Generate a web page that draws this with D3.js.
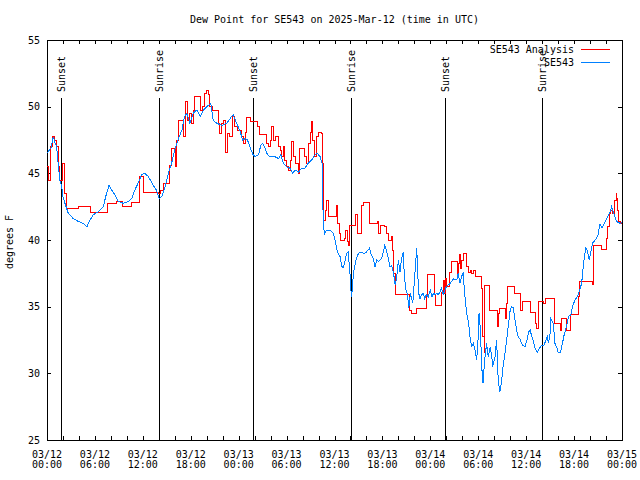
<!DOCTYPE html>
<html><head><meta charset="utf-8">
<script src="https://cdn.jsdelivr.net/npm/d3@7"></script>
<style>
html,body{margin:0;padding:0;background:#fff;}
svg{display:block;font-family:"DejaVu Sans Mono",monospace;font-size:10px;}
</style></head>
<body>
<script>
// ---- data (hours after 2025-03-12 00:00 UTC) ----
const title = "Dew Point for SE543 on 2025-Mar-12 (time in UTC)";
const yTicks = [25,30,35,40,45,50,55];
const sunHours = [1.8, 14.05, 25.8, 38.07, 49.9, 62.0];
const sunLabels = ["Sunset","Sunrise","Sunset","Sunrise","Sunset","Sunrise"];
const seriesNames = ["SE543 Analysis","SE543"];

const obsHours = [0,0.5,0.8,1.0,1.2,1.6,1.84,2.0,2.25,2.67,3.3,3.9,4.5,5.0,5.4,5.8,6.4,7.05,7.35,7.76,8.1,8.5,8.9,9.55,10.2,10.6,11.0,11.4,11.86,12.27,12.7,13.3,13.7,14.06,14.36,14.8,15.2,15.6,16.0,16.4,16.9,17.2,17.5,17.9,18.3,18.75,19.2,19.6,20.0,20.5,20.8,21.25,21.9,22.5,23.1,23.3,23.75,24.2,24.5,24.8,25.1,25.4,25.8,26.05,26.5,26.76,27.0,27.3,27.6,27.9,28.55,29.0,29.27,29.6,30.0,30.4,30.77,31.06,31.5,31.9,32.3,32.7,33.15,33.56,33.85,34.2,34.44,34.5,34.6,34.73,35.0,35.4,35.86,36.06,36.3,36.5,36.7,36.9,37.1,37.3,37.5,37.7,37.8,37.94,38.0,38.15,38.3,38.44,38.7,39.0,39.4,39.7,40.0,40.4,40.6,40.85,41.07,41.3,41.5,41.7,41.9,42.1,42.3,42.5,42.75,42.95,43.15,43.4,43.6,43.8,44.0,44.2,44.4,44.6,44.75,44.95,45.15,45.3,45.5,45.8,45.95,46.1,46.3,46.4,46.55,46.7,46.9,47.1,47.3,47.5,47.75,48.0,48.2,48.4,48.6,48.8,49.0,49.2,49.4,49.6,49.85,50.0,50.5,50.9,51.3,51.5,51.7,51.9,52.1,52.3,52.55,52.8,53.0,53.2,53.4,53.6,53.8,54.0,54.1,54.3,54.4,54.6,54.8,55.05,55.25,55.5,55.7,55.8,56.1,56.3,56.5,56.7,56.9,57.1,57.35,57.6,57.8,58.0,58.2,58.4,58.6,58.8,59.0,59.2,59.4,59.6,59.85,60.1,60.3,60.5,60.7,60.9,61.1,61.4,61.7,61.9,62.2,62.5,62.65,62.8,63.0,63.1,63.4,63.6,63.8,64.0,64.3,64.55,64.7,65.0,65.3,65.6,65.8,66.1,66.4,66.7,66.95,67.1,67.25,67.45,67.65,67.9,68.1,68.3,68.5,68.75,69.0,69.25,69.5,69.8,70.2,70.5,70.7,70.9,71.1,71.3,71.75,72.0];
const obsValues = [46.5,46.9,47.75,47.3,47.0,44.5,44.0,43.25,42.75,42.0,41.6,41.4,41.25,41.0,41.5,41.9,42.1,42.5,43.25,44.1,43.75,43.4,42.9,42.75,42.9,43.1,43.75,44.25,44.9,45.0,44.75,44.1,43.75,43.1,43.25,44.0,45.0,45.75,46.75,47.5,48.25,49.25,49.5,48.75,49.5,49.75,49.25,49.75,50.0,50.25,49.0,48.75,48.6,48.75,49.25,49.4,48.75,48.1,47.5,47.6,47.5,47.0,46.4,46.25,46.4,47.1,47.25,46.9,46.4,46.25,46.25,46.1,46.4,45.75,45.5,45.4,45.0,45.25,45.1,45.4,45.4,45.75,46.0,46.4,46.5,46.25,45.75,43.5,41.5,40.4,40.75,40.75,40.5,40.0,39.25,38.9,38.75,38.0,37.95,38.4,39.0,39.1,38.5,37.5,36.5,35.75,37.0,37.75,38.5,39.0,39.1,38.95,39.1,39.4,38.9,38.6,38.0,38.5,38.4,38.5,38.6,39.1,39.6,39.25,38.6,38.0,38.1,37.5,36.6,37.25,38.5,37.6,38.6,39.1,37.25,36.25,35.9,34.9,36.0,35.25,36.5,37.75,39.4,37.75,36.0,35.6,35.9,36.0,35.6,35.9,35.75,36.25,35.75,36.0,35.9,36.0,35.9,36.1,36.4,35.9,36.25,36.5,36.75,37.1,37.0,37.5,36.75,37.25,37.5,36.0,34.5,33.75,32.5,32.0,32.25,31.75,31.0,32.75,34.5,33.0,30.75,29.25,31.0,32.25,31.25,32.0,31.25,30.5,31.25,32.5,29.5,28.6,29.25,30.5,31.5,32.75,33.75,34.75,35.0,34.9,34.0,33.25,32.75,32.6,32.25,32.1,32.0,32.5,33.1,33.25,32.75,32.4,31.9,31.6,31.9,32.1,32.1,32.5,32.75,32.25,33.0,34.1,33.75,32.25,32.0,31.6,31.6,32.25,32.75,33.4,34.25,34.4,35.0,35.5,35.75,36.25,36.75,37.75,38.5,39.4,39.25,38.5,39.1,39.75,39.9,40.1,40.4,41.2,40.9,41.25,41.75,42.1,42.5,42.1,41.75,41.4,41.25,41.3];

const anaHours = [0,0.17,0.46,0.71,1.0,1.13,1.42,1.54,1.96,2.17,2.38,3.92,5.47,7.55,8.72,9.47,10.6,11.52,12.06,13.94,14.15,14.57,15.4,15.6,16.03,16.24,16.44,17.07,17.36,17.61,17.9,18.1,18.3,18.5,19.24,19.5,19.74,20.0,20.2,20.4,20.74,21.45,21.66,21.87,22.08,22.29,22.41,22.58,22.9,23.25,23.54,23.83,24.38,24.59,24.8,25.0,25.5,26.4,26.6,27.5,27.72,27.93,28.14,28.35,28.56,28.97,29.18,29.39,29.6,29.8,30.0,30.22,30.43,30.64,30.85,31.06,31.48,31.6,32.3,32.52,32.73,32.94,33.06,33.27,33.44,33.69,33.98,34.4,34.52,34.6,34.68,34.85,35.02,35.23,36.19,36.36,36.6,36.77,37.2,37.4,37.6,37.73,37.86,38.69,38.86,39.4,39.69,40.36,41.36,41.53,41.7,42.32,42.53,42.74,43.16,43.28,43.45,43.66,45.45,45.66,46.3,47.46,47.62,48.58,48.67,49.42,49.63,49.75,49.88,50.04,50.46,50.67,51.38,51.5,51.63,51.8,51.92,52.13,52.55,52.76,52.97,53.17,53.38,53.6,54.43,54.55,54.72,54.84,55.4,55.47,56.43,56.55,56.64,57.39,57.56,57.68,58.48,58.6,59.35,59.5,60.48,61.23,61.31,61.52,62.23,62.48,63.53,64.32,64.44,65.07,65.49,66.53,66.65,68.32,68.49,69.45,70.0,70.16,70.4,70.58,70.83,71.0,71.12,71.25,71.33,71.42,71.55,71.75,72.0];
const anaValues = [45.5,44.5,47.0,47.75,47.5,47.0,45.5,44.5,45.75,43.5,42.4,42.5,42.1,42.75,42.9,42.5,42.8,44.75,43.6,43.5,43.75,44.25,45.6,46.9,45.5,47.5,49.0,47.75,50.4,49.0,49.5,48.75,49.75,50.75,49.75,50.0,51.0,51.25,50.9,50.0,49.75,48.75,48.0,48.75,49.0,48.25,46.6,48.0,47.75,49.25,48.5,48.25,47.75,47.25,48.1,49.2,48.9,48.5,47.9,47.25,47.0,47.5,48.5,47.5,47.75,47.0,46.75,46.25,47.0,46.0,45.5,45.25,46.0,47.4,46.25,45.75,45.0,46.9,46.25,45.75,47.25,48.1,48.9,47.5,46.25,47.75,48.1,48.0,45.75,44.0,41.5,42.25,43.0,41.75,42.6,41.25,40.5,40.0,40.1,40.75,39.9,39.6,41.1,41.9,40.5,42.6,42.8,41.25,41.4,40.5,41.1,41.0,40.5,40.0,40.25,39.25,37.5,35.9,34.75,34.5,34.9,35.9,37.4,35.9,35.1,36.1,37.0,36.0,37.1,36.5,37.6,38.4,37.5,38.25,38.9,37.9,38.5,39.0,38.0,37.6,37.75,37.5,37.75,37.25,36.4,32.75,31.6,36.6,35.6,34.75,33.5,34.5,34.9,34.1,35.25,36.5,36.1,36.0,34.75,35.4,34.6,33.75,33.4,35.4,35.25,35.6,33.75,33.25,34.1,33.25,34.4,35.75,36.9,36.7,39.6,39.3,40.1,41.0,42.0,42.25,42.0,42.25,43.0,43.5,43.1,42.25,41.4,41.25,41.25];

// ---- drawing ----
const W = 640, H = 480;
const base = Date.UTC(2025, 2, 12);
const toDate = h => new Date(base + h * 3600e3);
const pL = 47, pR = 622, pT = 40, pB = 440;

const svg = d3.select("body").append("svg").attr("width", W).attr("height", H);

const x = d3.scaleUtc().domain([toDate(0), toDate(72)]).range([pL, pR]);
const y = d3.scaleLinear().domain([25, 55]).range([pB, pT]);

const black = "#000";

// frame
svg.append("rect").attr("x", pL).attr("y", pT)
  .attr("width", pR - pL).attr("height", pB - pT)
  .attr("fill", "none").attr("stroke", black).attr("shape-rendering", "crispEdges");

// x ticks (every 2h) bottom and top
const tick2 = d3.utcHour.every(2).range(toDate(0), toDate(72.01));
const xb = svg.append("g").attr("transform", `translate(0,${pB})`)
  .call(d3.axisBottom(x).tickValues(tick2).tickSizeInner(-4).tickSizeOuter(0).tickFormat(""));
const xt = svg.append("g").attr("transform", `translate(0,${pT})`)
  .call(d3.axisTop(x).tickValues(tick2).tickSizeInner(-4).tickSizeOuter(0).tickFormat(""));
[xb, xt].forEach(g => { g.select(".domain").remove(); g.selectAll("line").attr("stroke", black).attr("shape-rendering","crispEdges"); });

// x labels every 6h, two lines
const tick6 = d3.utcHour.every(6).range(toDate(0), toDate(72.01));
const fDate = d3.utcFormat("%m/%d"), fTime = d3.utcFormat("%H:%M");
const xl = svg.append("g");
tick6.forEach(t => {
  const tx = xl.append("text").attr("text-anchor", "middle").attr("fill", black);
  tx.append("tspan").attr("x", x(t)).attr("y", 457.5).text(fDate(t));
  tx.append("tspan").attr("x", x(t)).attr("y", 468).text(fTime(t));
});

// y ticks left (labels) and right
const yl = svg.append("g").attr("transform", `translate(${pL},0)`)
  .call(d3.axisLeft(y).tickValues(yTicks).tickSizeInner(-4).tickSizeOuter(0).tickPadding(7).tickFormat(d3.format("d")));
const yr = svg.append("g").attr("transform", `translate(${pR},0)`)
  .call(d3.axisRight(y).tickValues(yTicks).tickSizeInner(-4).tickSizeOuter(0).tickFormat(""));
[yl, yr].forEach(g => { g.select(".domain").remove(); g.selectAll("line").attr("stroke", black).attr("shape-rendering","crispEdges"); });
yl.attr("font-family", null).attr("font-size", null);
yl.selectAll("text").attr("fill", black);

// title & y label
svg.append("text").attr("x", (pL + pR) / 2).attr("y", 23).attr("text-anchor", "middle").text(title);
svg.append("text").attr("transform", "translate(13,242) rotate(-90)").attr("text-anchor", "middle").text("degrees F");

// sunrise / sunset markers
sunHours.forEach((h, i) => {
  const sx = x(toDate(h));
  svg.append("line").attr("x1", sx).attr("x2", sx).attr("y1", 98).attr("y2", pB)
    .attr("stroke", black).attr("shape-rendering", "crispEdges");
  svg.append("text").attr("transform", `translate(${sx + 3.5},92) rotate(-90)`)
    .attr("text-anchor", "start").text(sunLabels[i]);
});

// series
const obs = obsHours.map((h, i) => ({ t: toDate(h), v: obsValues[i] }));
const ana = anaHours.map((h, i) => ({ t: toDate(h), v: anaValues[i] }));
const red = "#ff0000", blue = "#0080ff";

svg.append("path").datum(ana)
  .attr("d", d3.line().x(d => x(d.t)).y(d => y(d.v)).curve(d3.curveStepAfter))
  .attr("fill", "none").attr("stroke", red).attr("stroke-width", 1).attr("shape-rendering", "crispEdges");
svg.append("path").datum(obs)
  .attr("d", d3.line().x(d => x(d.t)).y(d => y(d.v)))
  .attr("fill", "none").attr("stroke", blue).attr("stroke-width", 1).attr("shape-rendering", "crispEdges");

// legend
const legColors = [red, blue];
seriesNames.forEach((n, i) => {
  const ly = 49.5 + i * 13;
  svg.append("text").attr("x", 574).attr("y", ly + 3.5).attr("text-anchor", "end").text(n);
  svg.append("line").attr("x1", 581).attr("x2", 610).attr("y1", ly).attr("y2", ly)
    .attr("stroke", legColors[i]).attr("shape-rendering", "crispEdges");
});
</script>
</body></html>
